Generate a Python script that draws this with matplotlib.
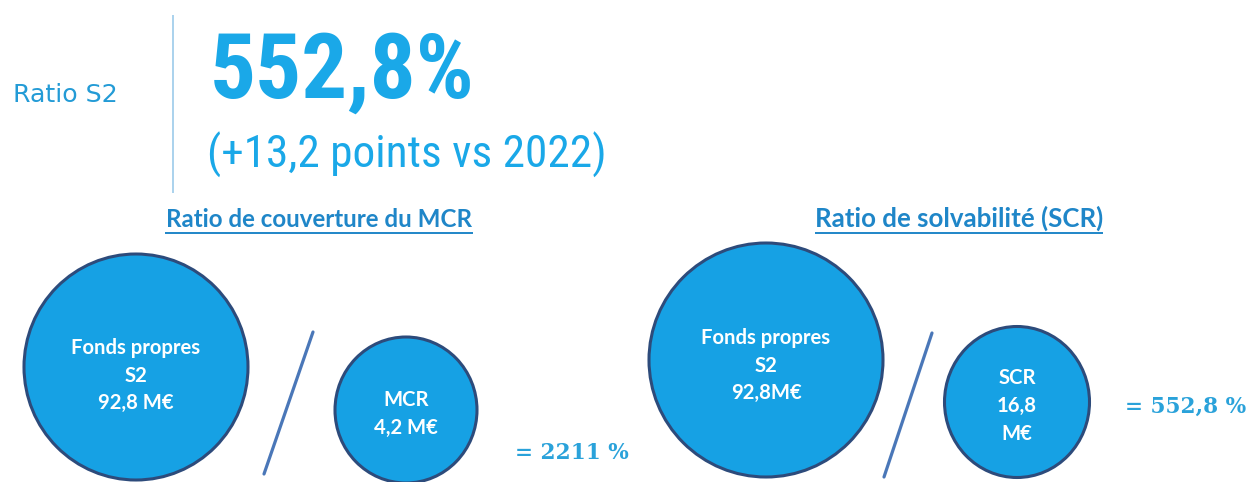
import matplotlib
matplotlib.use("Agg")
import matplotlib.pyplot as plt
from matplotlib.patches import Ellipse
from matplotlib import font_manager
from matplotlib.font_manager import FontProperties
from matplotlib.textpath import TextPath

# ---------------- data ----------------
kpi_label = "Ratio S2"
kpi_value = "552,8%"
kpi_delta = "(+13,2 points vs 2022)"

panel_titles = ["Ratio de couverture du MCR", "Ratio de solvabilité (SCR)"]
numerator_labels = ["Fonds propres\nS2\n92,8 M€", "Fonds propres\nS2\n92,8M€"]
denominator_labels = ["MCR\n4,2 M€", "SCR\n16,8\nM€"]
result_labels = ["= 2211 %", "= 552,8 %"]

# ---------------- style ----------------
FILL = "#16a1e4"
EDGE = "#2d4b7b"
SLASH = "#4a77b8"
TITLE_C = "#1f86c8"
KPI_C = "#1aa8e8"
LABEL_C = "#239bd6"
RES_C = "#2aa2da"

ttf = font_manager.fontManager.ttflist
names = {f.name for f in ttf}
BOLDF = "Lato" if "Lato" in names else "DejaVu Sans"

BASES = ("Roboto", "Liberation Sans", "Noto Sans", "Open Sans", "Lato", "Inter", "DejaVu Sans")


def allowed(f):
    n = f.name
    if n in BASES:
        return True
    if any(n.startswith(b) for b in BASES) and ("Condensed" in n or "Narrow" in n):
        return True
    return False


CANDS = []
_seen = set()
for f in ttf:
    if f.fname in _seen or not allowed(f):
        continue
    if f.style != "normal":
        continue
    low = f.fname.lower()
    if not (low.endswith(".ttf") or low.endswith(".otf")):
        continue
    _seen.add(f.fname)
    CANDS.append(f)


def wt(f):
    return f.weight if isinstance(f.weight, int) else 400


def pick_font(text, digits, target_ratio, lo, hi):
    best, best_err = None, None
    for f in CANDS:
        if not (lo <= wt(f) <= hi):
            continue
        try:
            fp = FontProperties(fname=f.fname)
            ew = TextPath((0, 0), text, size=100, prop=fp).get_extents().width
            eh = TextPath((0, 0), digits, size=100, prop=fp).get_extents().height
            r = ew / eh
        except Exception:
            continue
        err = abs(r - target_ratio)
        if best_err is None or err < best_err:
            best, best_err = f, err
    return best


_vf = pick_font(kpi_value, "5528", 265 / 66, 650, 750)
VALUE_FP = FontProperties(fname=_vf.fname) if _vf else FontProperties(family="DejaVu Sans", weight="bold")

# delta line: same (condensed) family as the value, regular weight
_df = None
if _vf is not None:
    same = [f for f in CANDS if f.name == _vf.name and f.stretch == _vf.stretch]
    same.sort(key=lambda f: abs(wt(f) - 400))
    if same:
        _df = same[0]
DELTA_FP = FontProperties(fname=_df.fname) if _df else FontProperties(family="DejaVu Sans")

W, H = 1253, 482
fig = plt.figure(figsize=(W / 100, H / 100), dpi=100)
ax = fig.add_axes([0, 0, 1, 1])
ax.set_xlim(0, W)
ax.set_ylim(H, 0)
ax.axis("off")
renderer = fig.canvas.get_renderer()


def fit(t, target_w):
    bb = t.get_window_extent(renderer=renderer)
    t.set_fontsize(t.get_fontsize() * target_w / bb.width)
    return t.get_fontsize()


# ---------------- header ----------------
t = ax.text(13, 95, kpi_label, color=LABEL_C, family="DejaVu Sans",
            fontsize=18, ha="left", va="center")
fit(t, 105)
ax.plot([173, 173], [15, 193], color="#9ccbea", lw=1.2, solid_capstyle="butt")

t = ax.text(210, 98, kpi_value, color=KPI_C, fontproperties=VALUE_FP,
            ha="left", va="baseline")
t.set_fontsize(60)
fit(t, 265)
t = ax.text(207, 168, kpi_delta, color=KPI_C, fontproperties=DELTA_FP,
            ha="left", va="baseline")
t.set_fontsize(30)
fit(t, 398)

# ---------------- panels ----------------
title_cx = [319, 959]
title_w = [308, 288]
num_geom = [((136, 367), 224, 226), ((766, 360), 234, 234)]
den_geom = [((406, 410), 142, 146), ((1017, 402), 145, 151)]
slashes = [((313, 332), (264, 474)), ((932, 333), (884, 477))]
num_line_y = [[348, 375, 402], [338, 365, 392]]
den_line_y = [[400, 427], [377, 405, 433]]
res_pos = [(515, 453), (1125, 407)]

probe = ax.text(0, 0, "Fonds propres", family=BOLDF, fontweight="bold", fontsize=14)
circ_fs = fit(probe, 130)
probe.remove()

probe = ax.text(0, 0, result_labels[0], family="DejaVu Serif", fontweight="bold", fontsize=14)
res_fs = fit(probe, 115)
probe.remove()

for i in range(2):
    tt = ax.text(title_cx[i], 227, panel_titles[i], color=TITLE_C, family=BOLDF,
                 fontweight="bold", fontsize=16, ha="center", va="baseline")
    fit(tt, title_w[i])
    half = title_w[i] / 2
    ax.plot([title_cx[i] - half, title_cx[i] + half], [232.5, 232.5],
            color=TITLE_C, lw=1.4, solid_capstyle="butt")

    c, w, h = num_geom[i]
    ax.add_patch(Ellipse(c, w, h, facecolor=FILL, edgecolor=EDGE, lw=2.2))
    for line, y in zip(numerator_labels[i].split("\n"), num_line_y[i]):
        ax.text(c[0], y + 6.5, line, color="white", family=BOLDF, fontweight="bold",
                fontsize=circ_fs, ha="center", va="baseline")

    (x0, y0), (x1, y1) = slashes[i]
    ax.plot([x0, x1], [y0, y1], color=SLASH, lw=2.3, solid_capstyle="round")

    c, w, h = den_geom[i]
    ax.add_patch(Ellipse(c, w, h, facecolor=FILL, edgecolor=EDGE, lw=2.2))
    for line, y in zip(denominator_labels[i].split("\n"), den_line_y[i]):
        ax.text(c[0], y + 6.5, line, color="white", family=BOLDF, fontweight="bold",
                fontsize=circ_fs, ha="center", va="baseline")

    ax.text(res_pos[i][0], res_pos[i][1], result_labels[i], color=RES_C,
            family="DejaVu Serif", fontweight="bold", fontsize=res_fs,
            ha="left", va="center")

fig.savefig("out.png", dpi=100)
